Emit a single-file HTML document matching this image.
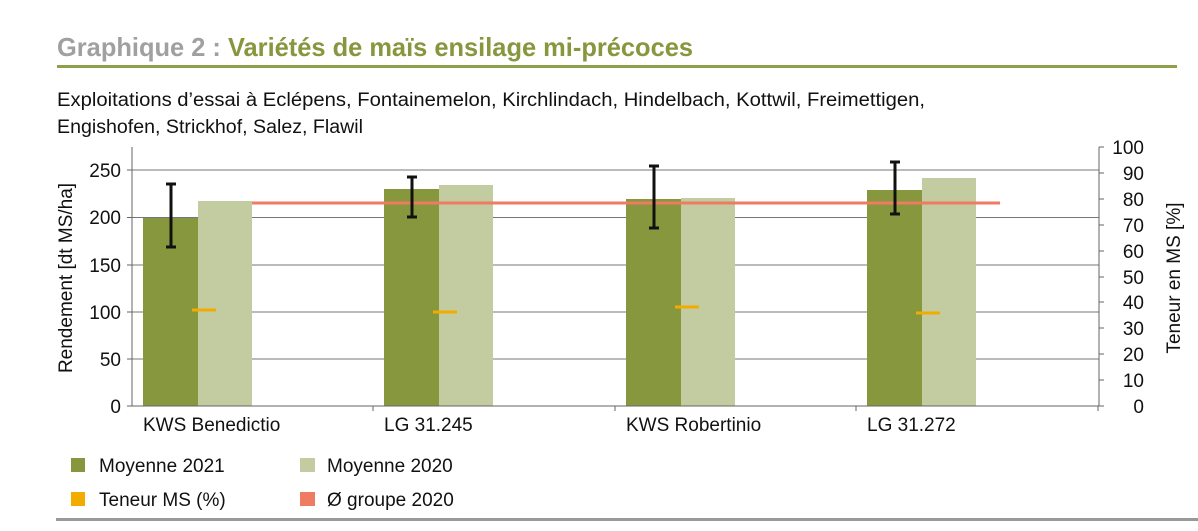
<!DOCTYPE html>
<html><head><meta charset="utf-8"><style>
html,body{margin:0;padding:0;background:#fff;}
svg{display:block;font-family:"Liberation Sans",sans-serif;}
</style></head><body>
<svg width="1198" height="531" viewBox="0 0 1198 531" xmlns="http://www.w3.org/2000/svg">
<text x="57" y="56" font-size="26" font-weight="bold" textLength="636" lengthAdjust="spacingAndGlyphs"><tspan fill="#a0a0a0">Graphique 2 : </tspan><tspan fill="#86973e">Variétés de maïs ensilage mi-précoces</tspan></text>
<rect x="57" y="65" width="1120" height="3" fill="#8ea04a"/>
<text x="57" y="106" font-size="19" fill="#111" textLength="868" lengthAdjust="spacingAndGlyphs">Exploitations d’essai à Eclépens, Fontainemelon, Kirchlindach, Hindelbach, Kottwil, Freimettigen,</text>
<text x="57" y="133" font-size="19" fill="#111" textLength="306" lengthAdjust="spacingAndGlyphs">Engishofen, Strickhof, Salez, Flawil</text>
<g stroke="#777" stroke-width="1">
<line x1="132" y1="170" x2="1099" y2="170"/>
<line x1="132" y1="217.5" x2="1099" y2="217.5"/>
<line x1="132" y1="265" x2="1099" y2="265"/>
<line x1="132" y1="312" x2="1099" y2="312"/>
<line x1="132" y1="359" x2="1099" y2="359"/>
</g>
<g fill="#86973e">
<rect x="143" y="218" width="55" height="188"/>
<rect x="384" y="189" width="55" height="217"/>
<rect x="626" y="199" width="55" height="207"/>
<rect x="867" y="190" width="55" height="216"/>
</g>
<g fill="#c3cba0">
<rect x="198" y="201" width="54" height="205"/>
<rect x="439" y="185" width="54" height="221"/>
<rect x="681" y="198" width="54" height="208"/>
<rect x="922" y="178" width="54" height="228"/>
</g>
<rect x="252" y="201.5" width="748" height="3" fill="#ee7b62"/>
<g stroke="#111" stroke-width="3">
<line x1="171" y1="183" x2="171" y2="248"/><line x1="166" y1="184" x2="176" y2="184"/><line x1="166" y1="247" x2="176" y2="247"/>
<line x1="412" y1="176" x2="412" y2="218"/><line x1="407" y1="177" x2="417" y2="177"/><line x1="407" y1="217" x2="417" y2="217"/>
<line x1="654" y1="165" x2="654" y2="229"/><line x1="649" y1="166" x2="659" y2="166"/><line x1="649" y1="228" x2="659" y2="228"/>
<line x1="895" y1="161" x2="895" y2="215"/><line x1="890" y1="162" x2="900" y2="162"/><line x1="890" y1="214" x2="900" y2="214"/>
</g>
<g stroke="#f2ac00" stroke-width="3">
<line x1="192" y1="310" x2="216" y2="310"/>
<line x1="433" y1="312" x2="457" y2="312"/>
<line x1="675" y1="307" x2="699" y2="307"/>
<line x1="916" y1="313" x2="940" y2="313"/>
</g>
<g stroke="#666" stroke-width="1">
<line x1="132" y1="147" x2="132" y2="406"/>
<line x1="132" y1="406" x2="1099" y2="406"/>
<line x1="1099" y1="147" x2="1099" y2="406"/>
<line x1="127" y1="170" x2="132" y2="170"/><line x1="127" y1="217.5" x2="132" y2="217.5"/><line x1="127" y1="265" x2="132" y2="265"/><line x1="127" y1="312" x2="132" y2="312"/><line x1="127" y1="359" x2="132" y2="359"/><line x1="127" y1="406" x2="132" y2="406"/>
<line x1="373" y1="406" x2="373" y2="411"/><line x1="615" y1="406" x2="615" y2="411"/><line x1="856" y1="406" x2="856" y2="411"/><line x1="1098" y1="406" x2="1098" y2="411"/>
<line x1="1099" y1="147" x2="1104" y2="147"/><line x1="1099" y1="173" x2="1104" y2="173"/><line x1="1099" y1="199" x2="1104" y2="199"/><line x1="1099" y1="225" x2="1104" y2="225"/><line x1="1099" y1="251" x2="1104" y2="251"/><line x1="1099" y1="277" x2="1104" y2="277"/><line x1="1099" y1="302" x2="1104" y2="302"/><line x1="1099" y1="328" x2="1104" y2="328"/><line x1="1099" y1="354" x2="1104" y2="354"/><line x1="1099" y1="380" x2="1104" y2="380"/><line x1="1099" y1="406" x2="1104" y2="406"/>
</g>
<g font-size="19" fill="#111" text-anchor="end">
<text x="121" y="177">250</text><text x="121" y="224">200</text><text x="121" y="272">150</text><text x="121" y="319">100</text><text x="121" y="366">50</text><text x="121" y="413">0</text>
</g>
<g font-size="19" fill="#111" text-anchor="end">
<text x="1144" y="154">100</text><text x="1144" y="180">90</text><text x="1144" y="206">80</text><text x="1144" y="232">70</text><text x="1144" y="258">60</text><text x="1144" y="284">50</text><text x="1144" y="309">40</text><text x="1144" y="335">30</text><text x="1144" y="361">20</text><text x="1144" y="387">10</text><text x="1144" y="413">0</text>
</g>
<text transform="translate(72,278) rotate(-90)" font-size="19" fill="#111" text-anchor="middle">Rendement [dt MS/ha]</text>
<text transform="translate(1180,278) rotate(-90)" font-size="19" fill="#111" text-anchor="middle">Teneur en MS [%]</text>
<g font-size="19" fill="#111">
<text x="143" y="431">KWS Benedictio</text>
<text x="384" y="431">LG 31.245</text>
<text x="626" y="431">KWS Robertinio</text>
<text x="867" y="431">LG 31.272</text>
</g>
<rect x="71" y="458" width="14" height="14" fill="#86973e"/>
<rect x="300" y="458" width="15" height="14" fill="#c3cba0"/>
<rect x="71" y="492" width="14" height="14" fill="#f2ac00"/>
<rect x="300" y="492" width="15" height="14" fill="#ee7b62"/>
<g font-size="19" fill="#111">
<text x="99" y="472">Moyenne 2021</text>
<text x="327" y="472">Moyenne 2020</text>
<text x="99" y="506">Teneur MS (%)</text>
<text x="327" y="506">Ø groupe 2020</text>
</g>
<rect x="56" y="518" width="1142" height="3" fill="#999"/>
</svg>
</body></html>
